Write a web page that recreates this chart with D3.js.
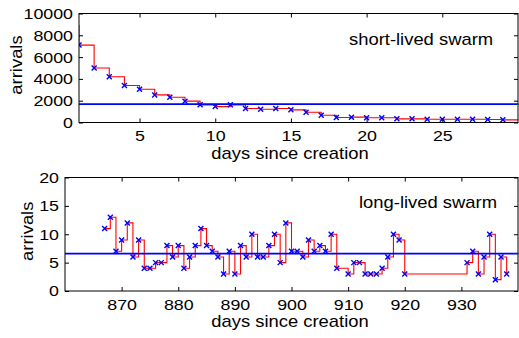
<!DOCTYPE html>
<html>
<head>
<meta charset="utf-8">
<script src="https://cdn.jsdelivr.net/npm/d3@7"></script>
<style>
  body { margin: 0; background: #fff; }
  svg { display: block; font-family: "Liberation Sans", Arial, sans-serif; }
</style>
</head>
<body>
<div id="chart"></div>
<script>
// short-lived swarm: arrivals per day
const shortDays = [1, 2, 3, 4, 5, 6, 7, 8, 9, 10, 11, 12, 13, 14, 15, 16, 17, 18, 19, 20, 21, 22, 23, 24, 25, 26, 27, 28, 29];
const shortArrivals = [7100, 5000, 4200, 3400, 3050, 2530, 2320, 1960, 1620, 1460, 1620, 1280, 1220, 1280, 1160, 945, 670, 457, 490, 430, 430, 335, 335, 305, 305, 305, 305, 275, 245];
const shortBefore = [0, 8900];   // point left of the visible range (clipped)
const shortAfter = [30, 190];    // point at the right edge
const shortMean = 1680;
const shortXTicks = [5, 10, 15, 20, 25];
const shortYTicks = [0, 2000, 4000, 6000, 8000, 10000];

// long-lived swarm
const longDays = [867, 868, 869, 870, 871, 872, 873, 874, 875, 876, 877, 878, 879, 880, 881, 882, 883, 884, 885, 886, 887, 888, 889, 890, 891, 892, 893, 894, 895, 896, 897, 898, 899, 900, 901, 902, 903, 904, 905, 906, 907, 908,
  910, 911, 912, 913, 914, 915, 916, 917, 918, 919, 920,
  931, 932, 933, 934, 935, 936, 937, 938];
const longArrivals = [11, 13, 7, 9, 12, 6, 9, 4, 4, 5, 5, 8, 6, 8, 4, 6, 8, 11, 8, 7, 6, 3, 7, 3, 8, 6, 10, 6, 6, 8, 10, 5, 12, 7, 7, 6, 9, 7, 8, 7, 10, 4,
  3, 5, 5, 3, 3, 3, 4, 6, 10, 9, 3,
  5, 7, 3, 6, 10, 2, 6, 3];
const longXTicks = [870, 880, 890, 900, 910, 920, 930];
const longYTicks = [0, 5, 10, 15, 20];

const width = 519, height = 338;
const stretch = 1.15; // the original text is a bit wider than Liberation Sans

const svg = d3.select('#chart').append('svg')
  .attr('width', width)
  .attr('height', height);

function zip(xs, ys) {
  return xs.map((x, i) => [x, ys[i]]);
}

function drawPanel(p) {
  const x = d3.scaleLinear().domain(p.xDomain).range([p.left, p.right]);
  const y = d3.scaleLinear().domain(p.yDomain).range([p.bottom, p.top]);

  const g = svg.append('g');

  g.append('clipPath').attr('id', p.id)
    .append('rect')
    .attr('x', p.left).attr('y', p.top)
    .attr('width', p.right - p.left).attr('height', p.bottom - p.top);

  const plot = g.append('g').attr('clip-path', `url(#${p.id})`);

  // step line (value held until the next day)
  const line = d3.line()
    .x(d => x(d[0]))
    .y(d => y(d[1]))
    .curve(d3.curveStepAfter);

  plot.append('path')
    .datum(p.lineData)
    .attr('fill', 'none')
    .attr('stroke', '#ff0000')
    .attr('stroke-width', 1.1)
    .attr('d', line);

  // mean level
  plot.append('line')
    .attr('x1', p.left).attr('x2', p.right)
    .attr('y1', y(p.mean)).attr('y2', y(p.mean))
    .attr('stroke', '#0000ff')
    .attr('stroke-width', 1.8);

  // x markers
  const s = 2.5;
  plot.selectAll('.mark')
    .data(p.points)
    .enter()
    .append('path')
    .attr('class', 'mark')
    .attr('d', d => {
      const cx = x(d[0]), cy = y(d[1]);
      return `M${cx - s},${cy - s}L${cx + s},${cy + s}M${cx - s},${cy + s}L${cx + s},${cy - s}`;
    })
    .attr('stroke', '#0000ff')
    .attr('stroke-width', 1.4)
    .attr('fill', 'none');

  // tiny green end at the right of the mean line
  g.append('line')
    .attr('x1', p.right - 1).attr('x2', p.right + 1)
    .attr('y1', y(p.mean)).attr('y2', y(p.mean))
    .attr('stroke', '#00cc00')
    .attr('stroke-width', 1.5);

  // axes with inward ticks
  const bottomAxis = g.append('g')
    .attr('transform', `translate(0,${p.bottom})`)
    .call(d3.axisBottom(x).tickValues(p.xTicks).tickSizeInner(-4).tickSizeOuter(0).tickPadding(8));
  g.append('g')
    .attr('transform', `translate(0,${p.top})`)
    .call(d3.axisTop(x).tickValues(p.xTicks).tickSizeInner(-4).tickSizeOuter(0).tickFormat(''));
  const leftAxis = g.append('g')
    .attr('transform', `translate(${p.left},0)`)
    .call(d3.axisLeft(y).tickValues(p.yTicks).tickSizeInner(-4).tickSizeOuter(0).tickFormat(d3.format('d')));
  g.append('g')
    .attr('transform', `translate(${p.right},0)`)
    .call(d3.axisRight(y).tickValues(p.yTicks).tickSizeInner(-4).tickSizeOuter(0).tickFormat(''));

  g.selectAll('.domain').remove();
  g.selectAll('.tick line').attr('stroke', '#000');

  bottomAxis.selectAll('text')
    .attr('font-size', 15.5)
    .attr('fill', '#000')
    .attr('font-family', null)
    .attr('transform', `scale(${stretch},1)`);

  leftAxis.selectAll('text')
    .attr('font-size', 15.5)
    .attr('fill', '#000')
    .attr('font-family', null)
    .attr('x', 0)
    .attr('transform', `translate(-6,0) scale(${stretch},1)`);

  // frame
  g.append('rect')
    .attr('x', p.left).attr('y', p.top)
    .attr('width', p.right - p.left).attr('height', p.bottom - p.top)
    .attr('fill', 'none')
    .attr('stroke', '#000')
    .attr('stroke-width', 1);

  // labels
  g.append('text')
    .attr('transform', `translate(290,${p.bottom + 36}) scale(${stretch},1)`)
    .attr('text-anchor', 'middle')
    .attr('font-size', 16)
    .text('days since creation');

  g.append('text')
    .attr('transform', `translate(${p.yLabelX},${(p.top + p.bottom) / 2 - 3}) rotate(-90) scale(${stretch},1)`)
    .attr('text-anchor', 'middle')
    .attr('font-size', 16)
    .text('arrivals');

  g.append('text')
    .attr('transform', `translate(${p.titleX},${p.titleY}) scale(${stretch},1)`)
    .attr('font-size', 16)
    .text(p.title);
}

const shortPoints = zip(shortDays, shortArrivals);
drawPanel({
  id: 'clip-short',
  left: 79, right: 518, top: 13.5, bottom: 122.5,
  xDomain: [1, 30], yDomain: [0, 10000],
  xTicks: shortXTicks, yTicks: shortYTicks,
  points: shortPoints,
  lineData: [shortBefore, ...shortPoints, shortAfter],
  mean: shortMean,
  yLabelX: 22,
  title: 'short-lived swarm', titleX: 349, titleY: 45
});

const longPoints = zip(longDays, longArrivals);
drawPanel({
  id: 'clip-long',
  left: 65, right: 518, top: 177.5, bottom: 291,
  xDomain: [860, 940], yDomain: [0, 20],
  xTicks: longXTicks, yTicks: longYTicks,
  points: longPoints,
  lineData: longPoints,
  mean: d3.mean(longArrivals),
  yLabelX: 33,
  title: 'long-lived swarm', titleX: 359, titleY: 208
});
</script>
</body>
</html>
